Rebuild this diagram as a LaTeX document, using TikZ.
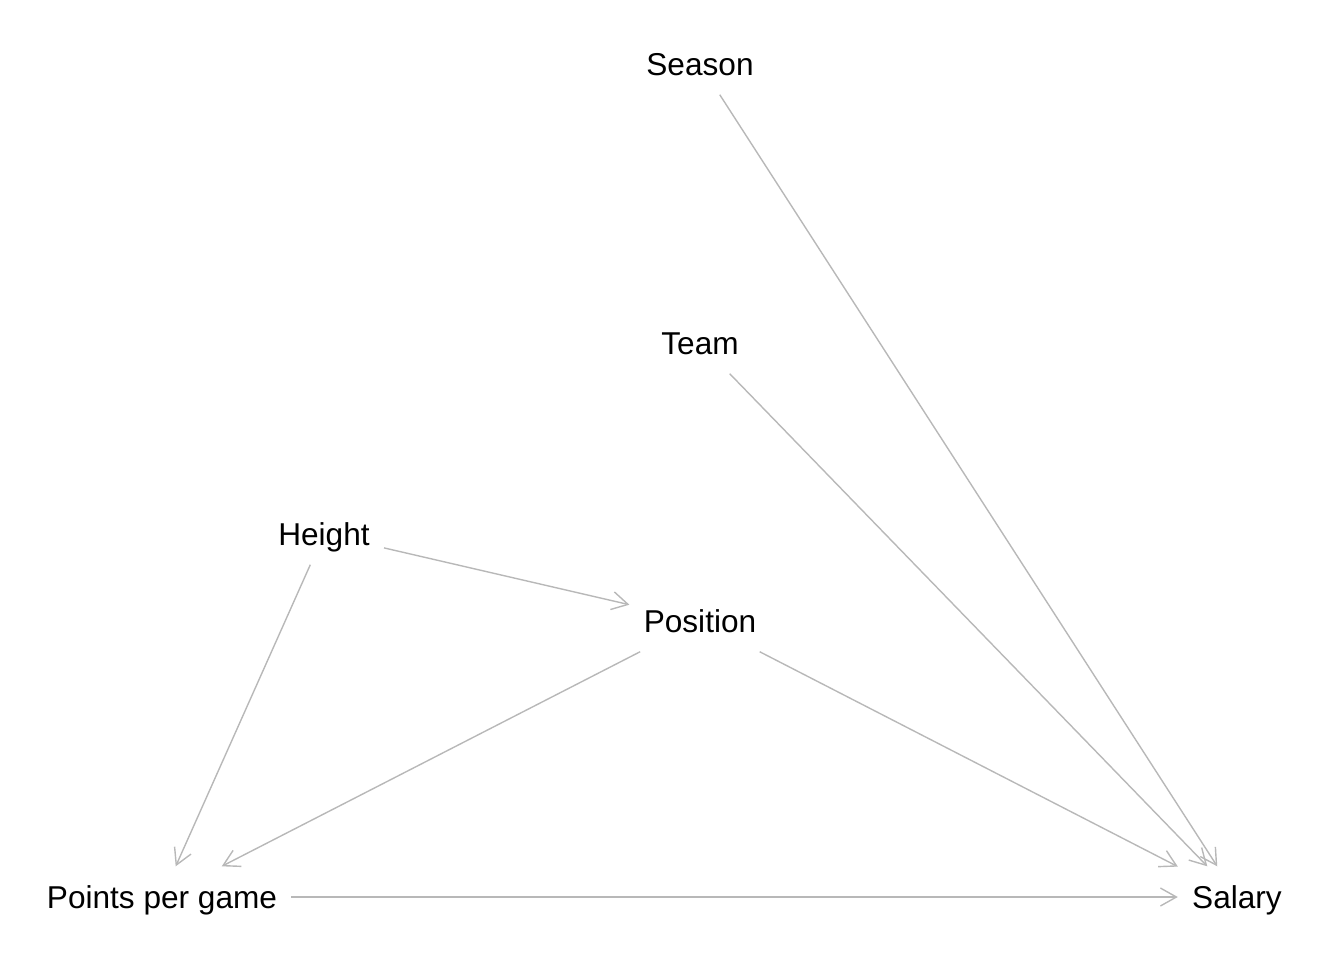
\documentclass[tikz,border=0pt]{standalone}
\usepackage{fontspec}
\setmainfont{Liberation Sans}
\usetikzlibrary{arrows.meta}
\definecolor{Edge}{HTML}{B8B8B8}
\tikzset{
  var/.style={rectangle,draw=none,font=\fontsize{15.8}{18}\selectfont,text height=11.3pt,text depth=0pt,inner xsep=7pt,inner ysep=9.5pt},
  dep/.style={-{Straight Barb[length=8pt,width=9pt,line width=0.7pt]},line width=0.7pt,draw=Edge}
}
\begin{document}
\begin{tikzpicture}[x=0.5pt,y=-0.5pt]
    \useasboundingbox (0,0) rectangle (1344,960);
    \node[var] (season) at (700,64) {Season}; \node[var] (team) at (700,343) {Team};
    \node[var] (height) at (324,534) {Height}; \node[var] (pos) at (700,621) {Position};
    \node[var] (ppg) at (162,897) {Points per game}; \node[var] (salary) at (1237,897) {Salary};
    \draw[dep] (season)--(salary);
    \draw[dep] (team)--(salary);
    \draw[dep] (pos)--(salary);
    \draw[dep] (ppg)--(salary);
    \draw[dep] (height)--(pos);
    \draw[dep] (height)--(ppg);
    \draw[dep] (pos)--(ppg);
  \end{tikzpicture}
\end{document}
